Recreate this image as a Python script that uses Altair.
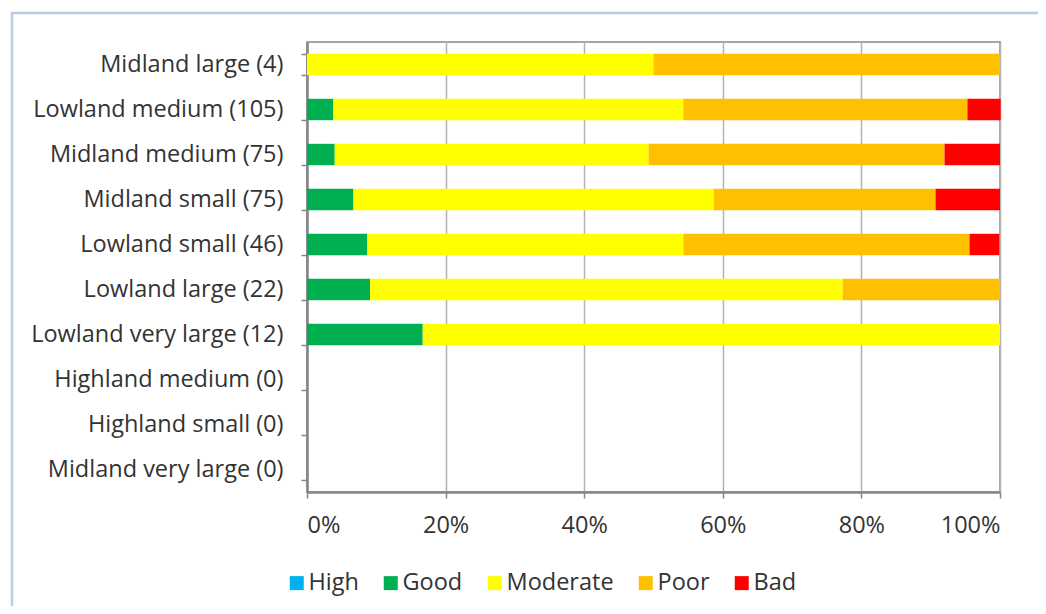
import altair as alt
import pandas as pd

categories = ["Midland large (4)", "Lowland medium (105)", "Midland medium (75)",
              "Midland small (75)", "Lowland small (46)", "Lowland large (22)",
              "Lowland very large (12)", "Highland medium (0)", "Highland small (0)",
              "Midland very large (0)"]
classes = ["High", "Good", "Moderate", "Poor", "Bad"]
colors = ["#00b0f0", "#00b050", "#ffff00", "#ffc000", "#ff0000"]

high = [0, 0, 0, 0, 0, 0, 0, 0, 0, 0]
good = [0, 3.8, 4.0, 6.7, 8.7, 9.1, 16.7, 0, 0, 0]
moderate = [50, 50.5, 45.3, 52.0, 45.6, 68.2, 83.3, 0, 0, 0]
poor = [50, 41.0, 42.7, 32.0, 41.3, 22.7, 0, 0, 0, 0]
bad = [0, 4.8, 8.0, 9.3, 4.3, 0, 0, 0, 0, 0]

x_ticks = [0, 20, 40, 60, 80, 100]

series = [high, good, moderate, poor, bad]
rows = []
for ci, (cls, vals) in enumerate(zip(classes, series)):
    for cat, v in zip(categories, vals):
        rows.append({"category": cat, "status": cls, "order": ci, "value": v})
df = pd.DataFrame(rows)

FONT = "Open Sans"
TEXT = "#333333"
FS = 23.5

bars = alt.Chart(df).mark_bar().encode(
    y=alt.Y("category:N", sort=categories,
            scale=alt.Scale(domain=categories, paddingInner=0.524, paddingOuter=0.262),
            axis=alt.Axis(title=None, tickBand="extent", ticks=True, tickSize=6,
                          tickColor="#868686", tickWidth=1.5,
                          domainColor="#868686", domainWidth=2.5,
                          labelFont=FONT, labelFontSize=FS, labelColor=TEXT,
                          labelPadding=18, labelLimit=400, grid=False)),
    x=alt.X("value:Q", stack="zero",
            scale=alt.Scale(domain=[0, 100], nice=False),
            axis=alt.Axis(title=None, values=x_ticks, labelExpr="datum.value + '%'",
                          grid=True, gridColor="#b3b3b3", gridWidth=1.5,
                          tickSize=6, tickColor="#868686", tickWidth=1.5,
                          domainColor="#868686", domainWidth=2.5,
                          labelFont=FONT, labelFontSize=FS, labelColor=TEXT,
                          labelPadding=15)),
    color=alt.Color("status:N", scale=alt.Scale(domain=classes, range=colors),
                    legend=alt.Legend(title=None, orient="none", direction="horizontal",
                                      legendX=-22, legendY=529,
                                      symbolType="square", symbolSize=196,
                                      symbolStrokeWidth=0, symbolOpacity=1,
                                      labelFont=FONT, labelFontSize=FS, labelColor=TEXT,
                                      labelOffset=0, columnPadding=20)),
    order=alt.Order("order:Q"),
)

border = alt.Chart(alt.Data(values=[{}])).mark_rect(
    fill=None, stroke="#b9cde5", strokeWidth=2.5
).encode(
    x=alt.value(-295), x2=alt.value(780), y=alt.value(-29), y2=alt.value(620)
)

chart = alt.layer(border, bars).properties(
    width=693, height=450,
    autosize=alt.AutoSizeParams(type="none"),
    padding={"left": 299, "top": 34, "right": 38, "bottom": 114},
    background="white",
).configure_view(stroke="#a6a6a6", strokeWidth=2)

chart.save("out.html", embed_options={"renderer": "svg", "actions": False})
